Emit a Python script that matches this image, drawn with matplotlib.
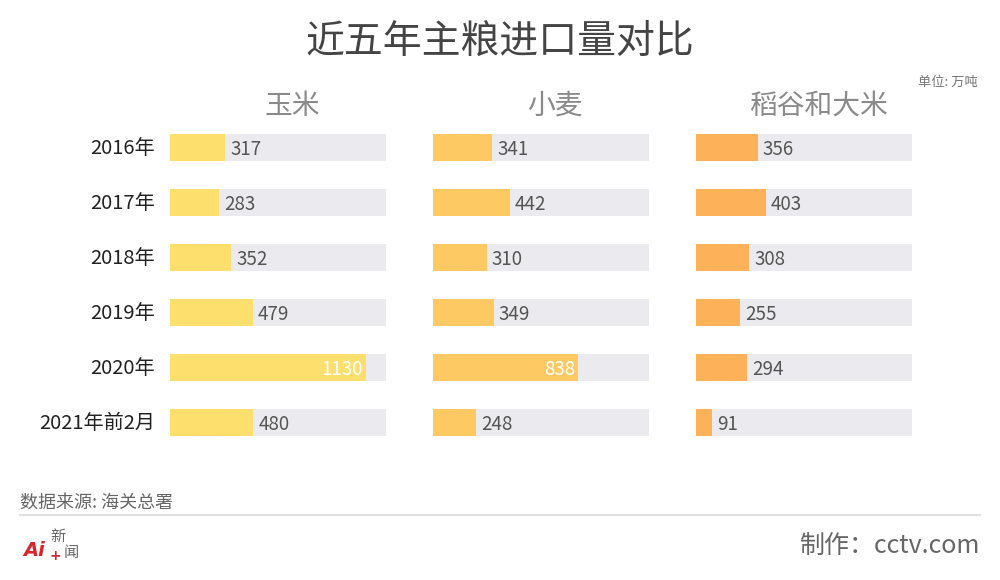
import matplotlib
matplotlib.use("Agg")
import matplotlib.pyplot as plt
from matplotlib.lines import Line2D

plt.rcParams['font.family'] = ['Noto Sans CJK SC', 'DejaVu Sans']

years = ["2016年", "2017年", "2018年", "2019年", "2020年", "2021年前2月"]
panels = ["玉米", "小麦", "稻谷和大米"]
corn = [317, 283, 352, 479, 1130, 480]
wheat = [341, 442, 310, 349, 838, 248]
rice = [356, 403, 308, 255, 294, 91]
series = [corn, wheat, rice]
colors = ["#FDDF6E", "#FDC962", "#FDB159"]
axis_max = 1245

W, H = 1000, 580
fig = plt.figure(figsize=(W / 100, H / 100), dpi=100)
fig.patch.set_facecolor("white")

lefts = [170, 433, 696]
pw = 216
top_px, bot_px = 120, 450
px = axis_max / pw  # data units per pixel
for k in range(3):
    ax = fig.add_axes([lefts[k] / W, 1 - bot_px / H, pw / W, (bot_px - top_px) / H])
    ys = list(range(len(years)))
    ax.barh(ys, [axis_max] * len(ys), height=0.49, color="#EBEBEF", zorder=1)
    ax.barh(ys, series[k], height=0.49, color=colors[k], zorder=2)
    ax.set_xlim(0, axis_max)
    ax.set_ylim(len(years) - 0.5, -0.5)
    ax.axis("off")
    for i, v in enumerate(series[k]):
        yy = i + 0.03
        if v > 700:
            ax.text(v - 3 * px, yy, str(v), color="white", fontsize=13.5, va="center", ha="right", zorder=3)
        else:
            ax.text(v + 5 * px, yy, str(v), color="#555555", fontsize=13.5, va="center", ha="left", zorder=3)
    if k == 0:
        for i, y in enumerate(years):
            ax.text(-15 * px, i + 0.02, y, fontsize=14.5, color="#222222", va="center", ha="right")
    fig.text((lefts[k] + 122) / W, 1 - 106 / H, panels[k], fontsize=20, color="#8A8A8A",
             ha="center", va="center")

fig.text(0.5, 1 - 42 / H, "近五年主粮进口量对比", fontsize=28, color="#444444", ha="center", va="center")
fig.text(978 / W, 1 - 82 / H, "单位: 万吨", fontsize=9.5, color="#777777", ha="right", va="center")
fig.text(20 / W, 1 - 503 / H, "数据来源: 海关总署", fontsize=13, color="#666666", ha="left", va="center")
fig.add_artist(Line2D([20 / W, 980 / W], [1 - 515 / H, 1 - 515 / H], color="#E0E0E0", lw=1.5))
fig.text(980 / W, 1 - 546 / H, "制作：cctv.com", fontsize=18, color="#666666", ha="right", va="center")

# logo approximation
fig.text(23 / W, 1 - 550 / H, "Ai", fontsize=14, color="#D9262C", fontweight="bold", fontstyle="italic",
         ha="left", va="center", family=["DejaVu Sans"])
fig.text(58 / W, 1 - 537 / H, "新", fontsize=11, color="#666666", ha="center", va="center")
fig.text(71 / W, 1 - 553 / H, "闻", fontsize=11, color="#666666", ha="center", va="center")
fig.text(55 / W, 1 - 556 / H, "+", fontsize=10, color="#D9262C", fontweight="bold", ha="center", va="center",
         family=["DejaVu Sans"])

fig.savefig("out.png", dpi=100, facecolor="white")
